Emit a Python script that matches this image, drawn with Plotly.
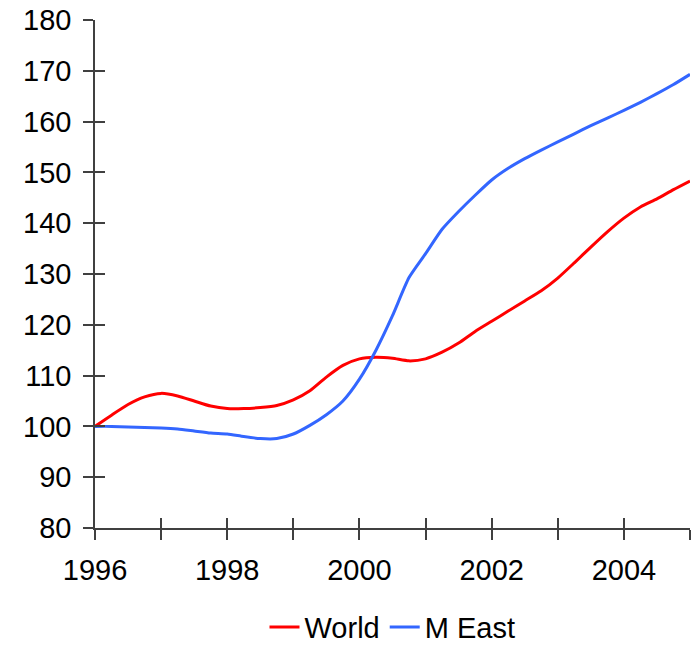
import plotly.graph_objects as go

# Quarterly index values (1996 = 100)
quarters = [1996 + 0.25 * i for i in range(37)]

world = [100.0, 102.2, 104.3, 105.8, 106.5, 106.0, 105.0, 104.0, 103.5,
         103.5, 103.7, 104.1, 105.2, 107.0, 109.7, 112.0, 113.3, 113.6,
         113.4, 112.9, 113.3, 114.6, 116.4, 118.7, 120.7, 122.7, 124.7,
         126.7, 129.2, 132.2, 135.3, 138.3, 141.0, 143.2, 144.8, 146.6,
         148.3]

m_east = [100.0, 100.0, 99.9, 99.8, 99.7, 99.5, 99.1, 98.7, 98.5,
          98.0, 97.6, 97.6, 98.5, 100.2, 102.3, 105.0, 109.3, 115.0,
          121.8, 129.3, 134.0, 138.8, 142.3, 145.5, 148.5, 150.8, 152.7,
          154.4, 156.0, 157.6, 159.2, 160.7, 162.2, 163.8, 165.5, 167.3,
          169.3]

year_ticks = list(range(1996, 2006))
year_labels = [str(y) if y % 2 == 0 else "" for y in year_ticks]
y_ticks = list(range(80, 181, 10))

FONT = dict(family="Liberation Sans, Arial, sans-serif", size=29, color="black")
AXIS_COLOR = "#404040"
X_RANGE = [1996, 2005]
Y_RANGE = [80, 180]

fig = go.Figure()
fig.add_trace(go.Scatter(x=quarters, y=world, name="World", mode="lines",
                         line=dict(color="#FF0000", width=3, shape="spline", smoothing=0.6)))
fig.add_trace(go.Scatter(x=quarters, y=m_east, name="M East", mode="lines",
                         line=dict(color="#3366FF", width=3, shape="spline", smoothing=0.6)))
# empty trace that anchors the overlaid axes carrying the inner tick halves
fig.add_trace(go.Scatter(x=[], y=[], xaxis="x2", yaxis="y2", showlegend=False,
                         hoverinfo="skip"))

common = dict(showgrid=False, zeroline=False, showline=True, linecolor=AXIS_COLOR,
              linewidth=1.5, tickcolor=AXIS_COLOR, tickwidth=1.5, ticklen=10,
              automargin=False)

fig.update_layout(
    width=691, height=646,
    margin=dict(l=95, r=1, t=20, b=118),
    paper_bgcolor="white", plot_bgcolor="white",
    font=FONT,
    xaxis=dict(range=X_RANGE, tickvals=year_ticks, ticktext=year_labels,
               ticks="outside", tickfont=FONT, ticklabelstandoff=5, **common),
    yaxis=dict(range=Y_RANGE, tickvals=y_ticks, ticks="outside", tickfont=FONT,
               ticklabelstandoff=6, **common),
    xaxis2=dict(range=X_RANGE, tickvals=year_ticks, ticks="inside", showticklabels=False,
                overlaying="x", anchor="y2", **common),
    yaxis2=dict(range=Y_RANGE, tickvals=y_ticks, ticks="inside", showticklabels=False,
                overlaying="y", anchor="x2", **common),
    legend=dict(orientation="h", x=0.5, xanchor="center", yref="container",
                y=0.029, yanchor="middle", font=FONT, itemwidth=30,
                traceorder="normal"),
    showlegend=True,
)

fig.write_html("out.html")
